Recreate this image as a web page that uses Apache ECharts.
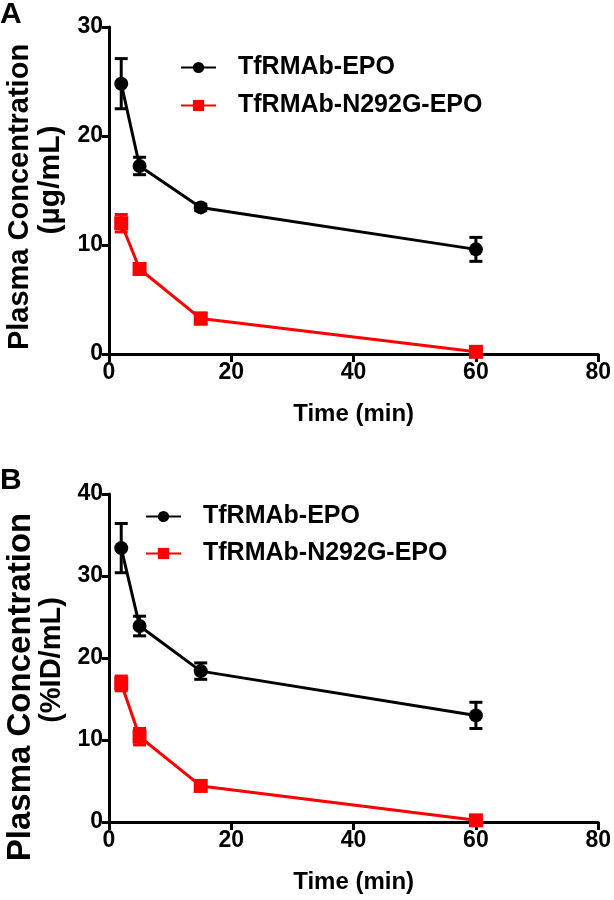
<!DOCTYPE html>
<html>
<head>
<meta charset="utf-8">
<script src="https://cdn.jsdelivr.net/npm/echarts@6/dist/echarts.min.js"></script>
<style>
  html, body { margin: 0; padding: 0; background: #fff; }
  #chart { width: 614px; height: 900px; }
</style>
</head>
<body>
<div id="chart"></div>
<script>
// 时间点 (min)
const timeMin = [2, 5, 15, 60];
const xTicks = [0, 20, 40, 60, 80];

// 图 A: µg/mL
const aEpoMean = [24.8, 17.25, 13.45, 9.6];
const aEpoErr = [2.3, 0.8, 0.3, 1.1];
const aN292Mean = [12.0, 7.8, 3.25, 0.2];
const aN292Err = [0.8, 0.5, 0.5, 0.2];

// 图 B: %ID/mL
const bEpoMean = [33.4, 23.9, 18.4, 13.0];
const bEpoErr = [3.0, 1.2, 1.0, 1.6];
const bN292Mean = [16.9, 10.4, 4.4, 0.2];
const bN292Err = [0.9, 1.0, 0.6, 0.2];

const FONT = 'Liberation Sans, Arial, sans-serif';
const BLACK = '#000000';
const RED = '#ff0000';

const chart = echarts.init(document.getElementById('chart'), null, { renderer: 'canvas' });

function xAxisFor(gridIndex) {
  return {
    gridIndex: gridIndex,
    type: 'value',
    min: xTicks[0],
    max: xTicks[xTicks.length - 1],
    interval: 20,
    name: 'Time (min)',
    nameLocation: 'middle',
    nameGap: 48,
    nameTextStyle: { fontFamily: FONT, fontWeight: 'bold', fontSize: 24, color: '#000' },
    axisLine: { lineStyle: { color: '#000', width: 3 } },
    axisTick: { length: 8, lineStyle: { color: '#000', width: 3 } },
    axisLabel: { fontFamily: FONT, fontWeight: 'bold', fontSize: 23, color: '#000', margin: 7 },
    splitLine: { show: false }
  };
}

function yAxisFor(gridIndex, max) {
  return {
    gridIndex: gridIndex,
    type: 'value',
    min: 0,
    max: max,
    interval: 10,
    axisLine: { lineStyle: { color: '#000', width: 3 } },
    axisTick: { length: 7, lineStyle: { color: '#000', width: 3 } },
    axisLabel: { fontFamily: FONT, fontWeight: 'bold', fontSize: 23, color: '#000', margin: 6 },
    splitLine: { show: false }
  };
}

// 纵轴标题 (旋转文字)
function vText(text, x, y, size) {
  return {
    type: 'text',
    x: x,
    y: y,
    rotation: Math.PI / 2,
    style: {
      text: text,
      font: 'bold ' + size + 'px ' + FONT,
      fill: '#000',
      align: 'center',
      verticalAlign: 'middle',
      textAlign: 'center',
      textVerticalAlign: 'middle'
    }
  };
}

function lineSeries(name, means, color, symbol, idx) {
  return {
    name: name,
    type: 'line',
    xAxisIndex: idx,
    yAxisIndex: idx,
    data: timeMin.map((t, i) => [t, means[i]]),
    symbol: symbol,
    symbolSize: 14,
    itemStyle: { color: color },
    lineStyle: { color: color, width: 3 },
    z: 3
  };
}

function errorSeries(name, means, errs, color, idx) {
  return {
    name: name,
    type: 'custom',
    xAxisIndex: idx,
    yAxisIndex: idx,
    data: timeMin.map((t, i) => [t, means[i] - errs[i], means[i] + errs[i]]),
    renderItem: function (params, api) {
      const lo = api.coord([api.value(0), api.value(1)]);
      const hi = api.coord([api.value(0), api.value(2)]);
      const half = 6.5;
      const style = { stroke: color, lineWidth: 3, fill: null };
      return {
        type: 'group',
        children: [
          { type: 'line', shape: { x1: lo[0], y1: lo[1], x2: hi[0], y2: hi[1] }, style: style },
          { type: 'line', shape: { x1: lo[0] - half, y1: lo[1], x2: lo[0] + half, y2: lo[1] }, style: style },
          { type: 'line', shape: { x1: hi[0] - half, y1: hi[1], x2: hi[0] + half, y2: hi[1] }, style: style }
        ]
      };
    },
    z: 2,
    silent: true
  };
}

function legendFor(left, top, gap) {
  return {
    left: left,
    top: top,
    padding: 0,
    orient: 'vertical',
    itemWidth: 35,
    itemHeight: 14,
    itemGap: gap,
    data: ['TfRMAb-EPO', 'TfRMAb-N292G-EPO'],
    textStyle: { fontFamily: FONT, fontWeight: 'bold', fontSize: 25, color: '#000', padding: [0, 0, 0, 17] },
    selectedMode: false
  };
}

const option = {
  backgroundColor: '#fff',
  animation: false,
  title: [
    { text: 'A', left: 0, top: 0, padding: 0, textStyle: { fontFamily: FONT, fontWeight: 'bold', fontSize: 30, color: '#000' } },
    { text: 'B', left: 0, top: 466, padding: 0, textStyle: { fontFamily: FONT, fontWeight: 'bold', fontSize: 30, color: '#000' } }
  ],
  graphic: [
    vText('Plasma Concentration', 20, 197, 29),
    vText('(µg/mL)', 51, 180, 30),
    vText('Plasma Concentration', 21, 687, 33),
    vText('(%ID/mL)', 52, 660, 29)
  ],
  grid: [
    { left: 109, top: 27, width: 491, height: 327 },
    { left: 109, top: 494, width: 491, height: 328 }
  ],
  legend: [
    legendFor(180, 55, 13),
    legendFor(145, 504, 12)
  ],
  xAxis: [xAxisFor(0), xAxisFor(1)],
  yAxis: [yAxisFor(0, 30), yAxisFor(1, 40)],
  series: [
    errorSeries('errA1', aEpoMean, aEpoErr, BLACK, 0),
    errorSeries('errA2', aN292Mean, aN292Err, RED, 0),
    lineSeries('TfRMAb-EPO', aEpoMean, BLACK, 'circle', 0),
    lineSeries('TfRMAb-N292G-EPO', aN292Mean, RED, 'rect', 0),
    errorSeries('errB1', bEpoMean, bEpoErr, BLACK, 1),
    errorSeries('errB2', bN292Mean, bN292Err, RED, 1),
    lineSeries('TfRMAb-EPO', bEpoMean, BLACK, 'circle', 1),
    lineSeries('TfRMAb-N292G-EPO', bN292Mean, RED, 'rect', 1)
  ]
};

chart.setOption(option);
</script>
</body>
</html>
